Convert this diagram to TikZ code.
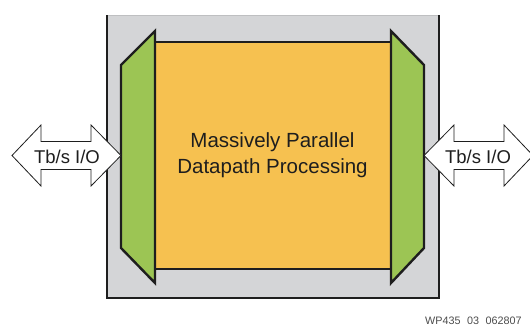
\documentclass[tikz,border=0pt]{standalone}
\usepackage{fontspec}
\setmainfont{Liberation Sans}
\definecolor{chipgray}{RGB}{212,213,215}
\definecolor{chipedge}{RGB}{190,191,193}
\definecolor{coregold}{RGB}{246,193,80}
\definecolor{iogreen}{RGB}{156,197,84}
\definecolor{inkblack}{RGB}{30,30,30}
\tikzset{
  iobar/.style={fill=iogreen, draw=inkblack, line width=2.4pt, line join=miter},
  iolabel/.style={font=\fontsize{18.5}{20}\selectfont, text=inkblack, inner sep=0pt},
  ioarrow/.style={fill=white, draw=inkblack, line width=0.8pt, line join=miter},
}
\begin{document}
\begin{tikzpicture}[x=1pt,y=-1pt]
\useasboundingbox (0,0) rectangle (530,327);
% chip outline
\fill[chipgray] (106,15) rectangle (439,298);
\draw[chipedge, line width=1pt] (106,15) -- (439,15);
\draw[inkblack, line width=2pt] (106.5,15) -- (106.5,297.5) -- (438.5,297.5) -- (438.5,15);
% core
\fill[coregold] (155,41.5) rectangle (391,269);
\draw[inkblack, line width=2pt] (155,41.5) -- (391,41.5);
\draw[inkblack, line width=2pt] (155,269) -- (391,269);
\node[font=\fontsize{20.5}{25.7}\selectfont, text=inkblack, align=center, inner sep=0pt] (core) at (272.5,155.5)
  {Massively Parallel\\Datapath Processing};
% I/O trapezoids
\draw[iobar] (121,65) -- (155,31) -- (155,283) -- (121,248) -- cycle;
\draw[iobar] (424,65) -- (391,31) -- (391,283) -- (424,248) -- cycle;
\coordinate (lio) at (121,155.5);
\coordinate (rio) at (424,155.5);
% bidirectional I/O arrows
\draw[ioarrow] (12,155.5) -- (41,125) -- (41,141.5) -- (91,141.5) -- (91,125) -- (lio)
  -- (91,186) -- (91,169.5) -- (41,169.5) -- (41,186) -- cycle;
\draw[ioarrow] (rio) -- (454,125) -- (454,141.5) -- (504,141.5) -- (504,125) -- (533,155.5)
  -- (504,186) -- (504,169.5) -- (454,169.5) -- (454,186) -- cycle;
\node[iolabel] (lt) at (67,156.5) {Tb/s I/O};
\node[iolabel] (rt) at (478,156.5) {Tb/s I/O};
% figure tag
\node[font=\fontsize{10.8}{12}\selectfont, text=inkblack!80, anchor=base west, inner sep=0pt] (tag) at (425,324)
  {WP435\hspace{6.5pt}03\hspace{6.5pt}062807};
\end{tikzpicture}
\end{document}
